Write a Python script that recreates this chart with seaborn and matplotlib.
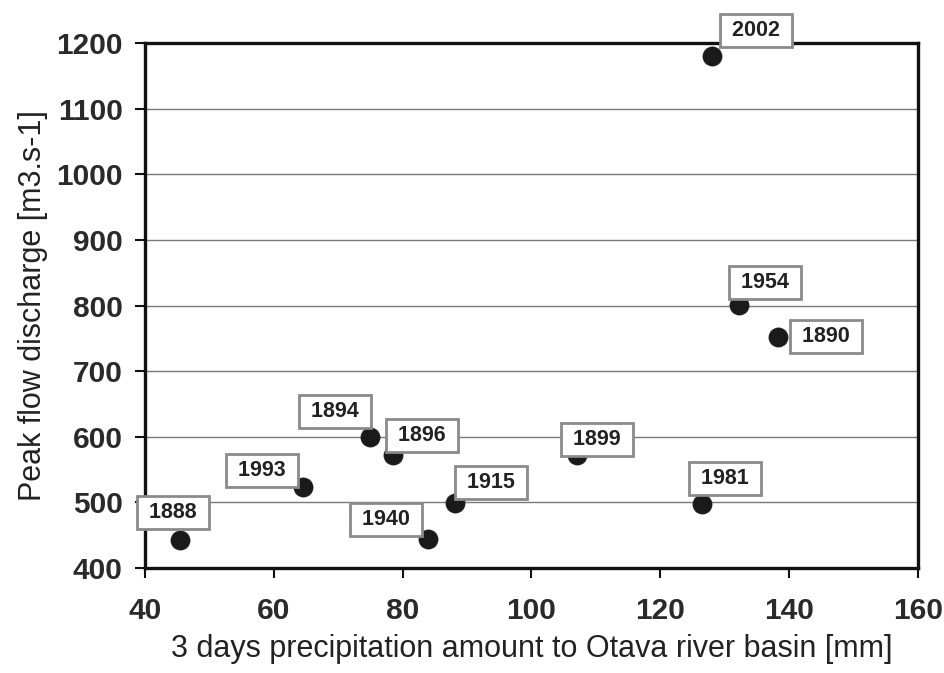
import matplotlib
matplotlib.use("Agg")
import matplotlib.pyplot as plt
import seaborn as sns
import pandas as pd

years = ["1888", "1993", "1894", "1896", "1940", "1915", "1899", "1981", "2002", "1954", "1890"]
precip = [45.4, 64.5, 74.9, 78.5, 83.9, 88.1, 107.1, 126.5, 128.0, 132.2, 138.3]
discharge = [443, 523, 600, 572, 444, 499, 572, 498, 1180, 801, 752]
x_ticks = [40, 60, 80, 100, 120, 140, 160]
y_ticks = [400, 500, 600, 700, 800, 900, 1000, 1100, 1200]

# label offsets in pixels (dx, dy) relative to point
label_offsets = {
    "1888": (-7, 27), "1993": (-41, 17), "1894": (-35, 25), "1896": (29, 20),
    "1940": (-42, 20), "1915": (36, 21), "1899": (20, 16), "1981": (23, 25),
    "2002": (44, 26), "1954": (26, 22), "1890": (48, 1),
}

df = pd.DataFrame({"year": years, "precip": precip, "discharge": discharge})

sns.set_theme(style="white")
plt.rcParams["font.family"] = ["Liberation Sans", "DejaVu Sans"]

fig = plt.figure(figsize=(9.45, 6.73), dpi=100)
ax = fig.add_axes([0.1534, 0.156, 0.818, 0.780])

ax.set_xlim(40, 160)
ax.set_ylim(400, 1200)
ax.set_xticks(x_ticks)
ax.set_yticks(y_ticks)
ax.yaxis.grid(True, color="#7a7a7a", linewidth=1.0)
ax.set_axisbelow(True)

sns.scatterplot(data=df, x="precip", y="discharge", ax=ax, color="#1a1a1a",
                s=190, edgecolor="#1a1a1a", linewidth=0.5, zorder=3, legend=False)

for yr, xv, yv in zip(years, precip, discharge):
    dx, dy = label_offsets[yr]
    ax.annotate(" " + yr + " ", (xv, yv), xytext=(dx, dy), textcoords="offset pixels",
                ha="center", va="center", fontsize=15.5, fontweight="bold",
                color="#222222", zorder=4, annotation_clip=False,
                bbox=dict(boxstyle="square,pad=0.28", fc="white", ec="#8a8a8a", lw=2.0))

for sp in ax.spines.values():
    sp.set_visible(True)
    sp.set_color("#111111")
    sp.set_linewidth(2.4)

ax.tick_params(axis="both", which="major", labelsize=21.5, colors="#111111",
               length=7, width=1.5, direction="out", bottom=True, left=True)
ax.tick_params(axis="x", pad=14)
ax.tick_params(axis="y", pad=9)
for lab in ax.get_xticklabels() + ax.get_yticklabels():
    lab.set_fontweight("bold")
    lab.set_color("#2a2a2a")
ax.set_xlabel("3 days precipitation amount to Otava river basin [mm]", fontsize=22, color="#222222", labelpad=6)
ax.set_ylabel("Peak flow discharge [m3.s-1]", fontsize=22, color="#222222", labelpad=6)

fig.savefig("out.png", dpi=100, facecolor="white")
